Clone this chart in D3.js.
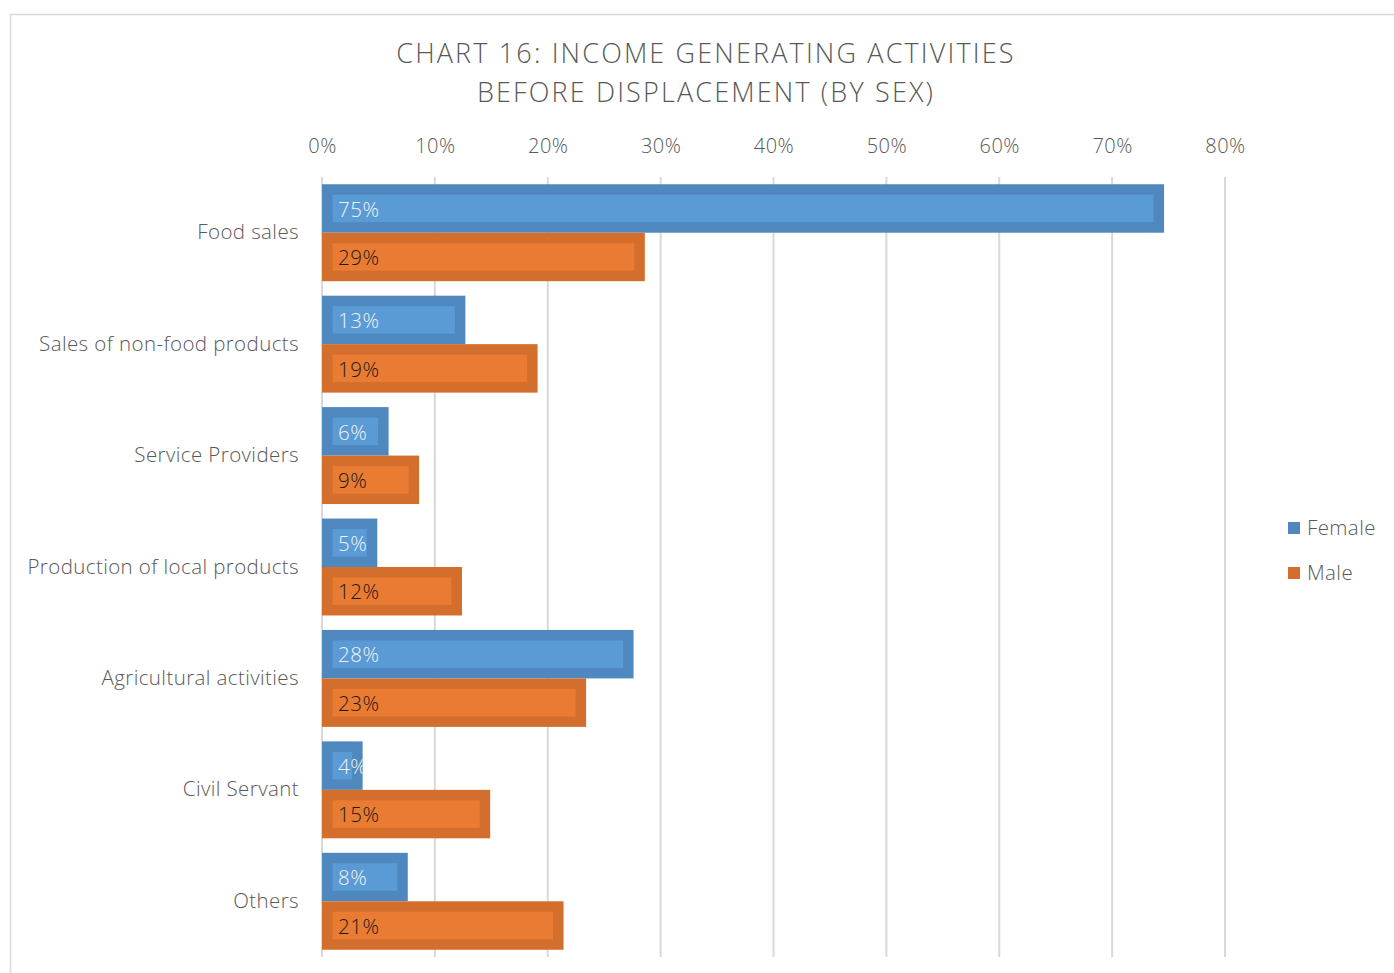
<!DOCTYPE html>
<html>
<head>
<meta charset="utf-8">
<script src="https://cdn.jsdelivr.net/npm/d3@7"></script>
<style>
  html, body { margin: 0; padding: 0; background: #fff; }
  svg { display: block; }
  text { font-family: "Open Sans", "Lato", sans-serif; }
</style>
</head>
<body>
<svg id="chart" width="1394" height="973"></svg>
<script>
// Income generating activities before displacement, share by sex
const categories = [
  "Food sales",
  "Sales of non-food products",
  "Service Providers",
  "Production of local products",
  "Agricultural activities",
  "Civil Servant",
  "Others"
];
const femaleValues = [0.746, 0.127, 0.059, 0.049, 0.276, 0.036, 0.076];
const maleValues   = [0.286, 0.191, 0.086, 0.124, 0.234, 0.149, 0.214];
const seriesNames  = ["Female", "Male"];
const tickValues   = [0, 0.1, 0.2, 0.3, 0.4, 0.5, 0.6, 0.7, 0.8];
const titleLines   = ["CHART 16: INCOME GENERATING ACTIVITIES", "BEFORE DISPLACEMENT (BY SEX)"];

const colors = {
  Female: { outer: "#4f88bf", inner: "#5b9bd5", label: "#f2f2f2" },
  Male:   { outer: "#d46e2d", inner: "#ea7b32", label: "#1a1a1a" }
};

const svg = d3.select("#chart");

// chart frame
svg.append("rect")
  .attr("x", 10.5).attr("y", 14.5)
  .attr("width", 1400).attr("height", 1000)
  .attr("fill", "#fff").attr("stroke", "#d9d9d9").attr("stroke-width", 1.5);

const plot = { left: 322, right: 1225, top: 177, bottom: 957 };

const x = d3.scaleLinear().domain([0, 0.8]).range([plot.left, plot.right]);
const y = d3.scaleBand().domain(categories).range([plot.top, plot.bottom]).paddingInner(0.13).paddingOuter(0.065);
const ySeries = d3.scaleBand().domain(seriesNames).range([0, y.bandwidth()]);

// title
svg.append("g").selectAll("text").data(titleLines).join("text")
  .attr("x", 706).attr("y", (d, i) => 63 + i * 39)
  .attr("text-anchor", "middle")
  .attr("font-size", 27).attr("font-weight", 300)
  .attr("letter-spacing", 2.15)
  .attr("fill", "#595959")
  .text(d => d);

// vertical gridlines
svg.append("g").selectAll("line").data(tickValues).join("line")
  .attr("x1", d => x(d)).attr("x2", d => x(d))
  .attr("y1", plot.top).attr("y2", plot.bottom)
  .attr("stroke", "#d9d9d9").attr("stroke-width", 2);

// top axis tick labels
const xAxis = d3.axisTop(x).tickValues(tickValues).tickFormat(d3.format(".0%")).tickSize(0).tickPadding(0);
const axisG = svg.append("g").attr("transform", `translate(0,153)`).call(xAxis);
axisG.select(".domain").remove();
axisG.selectAll("text")
  .attr("font-family", "'Open Sans', sans-serif")
  .attr("font-size", 20).attr("font-weight", 300)
  .attr("letter-spacing", 0.5)
  .attr("fill", "#595959").attr("dy", 0);

// category labels
const yAxis = d3.axisLeft(y).tickSize(0).tickPadding(0);
const yG = svg.append("g").attr("transform", `translate(299,0)`).call(yAxis);
yG.select(".domain").remove();
yG.selectAll("text")
  .attr("font-family", "'Open Sans', sans-serif")
  .attr("font-size", 20.5).attr("font-weight", 300)
  .attr("letter-spacing", 0.4)
  .attr("fill", "#595959");

// bars
const rows = categories.flatMap((c, i) => [
  { cat: c, series: "Female", value: femaleValues[i], id: "f" + i },
  { cat: c, series: "Male", value: maleValues[i], id: "m" + i }
]);

const defs = svg.append("defs");
defs.selectAll("clipPath").data(rows).join("clipPath")
  .attr("id", d => "clip-" + d.id)
  .append("rect")
  .attr("x", x(0)).attr("y", d => y(d.cat) + ySeries(d.series))
  .attr("width", d => x(d.value) - x(0)).attr("height", ySeries.bandwidth());

const bars = svg.append("g").selectAll("g").data(rows).join("g");
const inset = 10.5;

bars.append("rect")
  .attr("x", x(0)).attr("y", d => y(d.cat) + ySeries(d.series))
  .attr("width", d => x(d.value) - x(0)).attr("height", ySeries.bandwidth())
  .attr("fill", d => colors[d.series].outer);

bars.append("rect")
  .attr("x", x(0) + inset).attr("y", d => y(d.cat) + ySeries(d.series) + inset)
  .attr("width", d => Math.max(0, x(d.value) - x(0) - 2 * inset))
  .attr("height", ySeries.bandwidth() - 2 * inset)
  .attr("fill", d => colors[d.series].inner);

bars.append("text")
  .attr("clip-path", d => `url(#clip-${d.id})`)
  .attr("x", x(0) + 16)
  .attr("y", d => y(d.cat) + ySeries(d.series) + ySeries.bandwidth() / 2 + 1)
  .attr("dy", "0.35em")
  .attr("font-size", 20.5).attr("font-weight", 300)
  .attr("letter-spacing", 0.5)
  .attr("fill", d => colors[d.series].label)
  .text(d => d3.format(".0%")(d.value));

// legend
const legend = svg.append("g").selectAll("g").data(seriesNames).join("g")
  .attr("transform", (d, i) => `translate(1288, ${528 + i * 45})`);
legend.append("rect")
  .attr("x", 0).attr("y", -6).attr("width", 12).attr("height", 12)
  .attr("fill", d => colors[d].outer);
legend.append("text")
  .attr("x", 19).attr("dy", "0.35em")
  .attr("font-size", 20.5).attr("font-weight", 300)
  .attr("letter-spacing", 0.4)
  .attr("fill", "#595959")
  .text(d => d);
</script>
</body>
</html>
